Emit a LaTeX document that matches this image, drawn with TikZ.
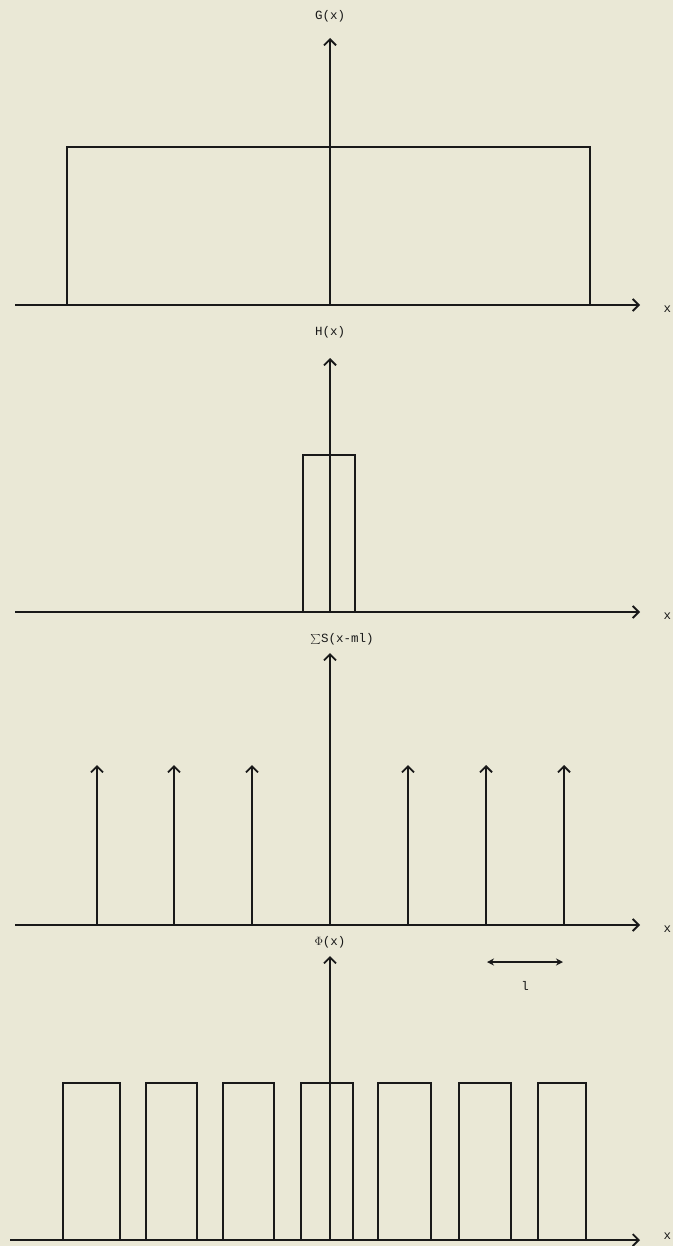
\documentclass[tikz,border=0pt]{standalone}
\usepackage{fontspec}
\setmonofont{Liberation Mono}
\usetikzlibrary{arrows.meta}
\definecolor{paper}{RGB}{234,232,214}
\definecolor{ink}{RGB}{25,25,25}
\begin{document}
\begin{tikzpicture}[
    x=1pt, y=-1pt, % 按像素坐标
    line width=1.4pt,
    draw=ink,
    axis/.style={-{Straight Barb[length=6pt,width=12pt,line width=1.8pt]}},
    bar/.style={{Stealth[length=7pt,width=7pt]}-{Stealth[length=7pt,width=7pt]}},
    lbl/.style={font=\ttfamily\fontsize{12.5}{14}\selectfont, text=ink, inner sep=1pt}
]
  \useasboundingbox[fill=paper] (0,0) rectangle (673,1246);

  % G(x)
  \coordinate (gL) at (15,305);
  \coordinate (gR) at (640,305);
  \coordinate (gO) at (330,305);
  \coordinate (gT) at (330,38);
  \node[lbl] (glab) at (330,16) {G(x)};
  \node[lbl, anchor=west] (gx) at (662,309) {x};
  \draw[axis] (gL) -- (gR);
  \draw[axis] (gO) -- (gT);
  \draw (67,305) |- (590,147) -- (590,305);

  % H(x)
  \coordinate (hL) at (15,612);
  \coordinate (hR) at (640,612);
  \coordinate (hO) at (330,612);
  \coordinate (hT) at (330,358);
  \node[lbl] (hlab) at (330,332) {H(x)};
  \node[lbl, anchor=west] (hx) at (662,616) {x};
  \draw[axis] (hL) -- (hR);
  \draw[axis] (hO) -- (hT);
  \draw (303,612) |- (355,455) -- (355,612);

  % 冲激串
  \coordinate (sL) at (15,925);
  \coordinate (sR) at (640,925);
  \coordinate (sO) at (330,925);
  \coordinate (sT) at (330,653);
  \node[lbl] (slab) at (342,639) {$\sum$S(x-ml)};
  \node[lbl, anchor=west] (sx) at (662,929) {x};
  \draw[axis] (sL) -- (sR);
  \draw[axis] (sO) -- (sT);
  \foreach \px in {97,174,252,408,486,564}
    \draw[axis] (\px,925) -- (\px,765);

  % 周期长度 l
  \coordinate (lA) at (487,962);
  \coordinate (lB) at (563,962);
  \draw[bar, line width=1.2pt] (lA) -- (lB);
  \node[lbl] (llab) at (525,986) {l};

  % Phi(x)
  \coordinate (pL) at (10,1240);
  \coordinate (pR) at (640,1240);
  \coordinate (pO) at (330,1240);
  \coordinate (pT) at (330,956);
  \node[lbl] (plab) at (330,942) {$\Phi$(x)};
  \node[lbl, anchor=west] (px) at (662,1236) {x};
  \draw[axis] (pL) -- (pR);
  \draw[axis] (pO) -- (pT);
  \foreach \a/\b in {63/120,146/197,223/274,301/353,378/431,459/511,538/586}
    \draw (\a,1240) |- (\b,1083) -- (\b,1240);
\end{tikzpicture}
\end{document}
